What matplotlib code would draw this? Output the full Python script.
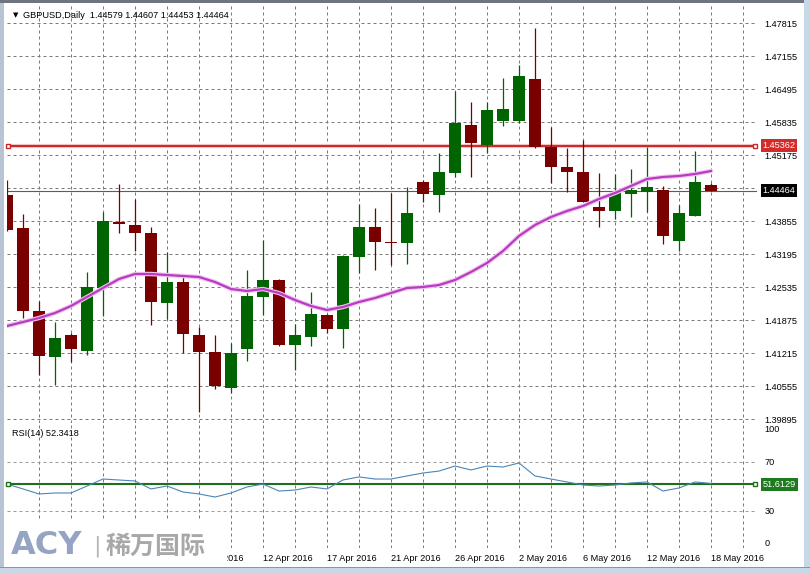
import numpy as np
import matplotlib
matplotlib.use('Agg')
import matplotlib.pyplot as plt
from matplotlib.patches import Rectangle
import matplotlib.transforms as mtransforms

# GBPUSD daily candles (one per trading day)
opens = [1.44375, 1.43715, 1.42055, 1.41135, 1.41575, 1.41255, 1.42515, 1.43835, 1.43775, 1.43615,
         1.42215, 1.42635, 1.41575, 1.41235, 1.40515, 1.41295, 1.42335, 1.42675, 1.41375, 1.41535,
         1.41975, 1.41695, 1.43135, 1.43735, 1.43435, 1.43415, 1.44635, 1.44375, 1.44815, 1.45775,
         1.45375, 1.45855, 1.45855, 1.46695, 1.45335, 1.44935, 1.44835, 1.44135, 1.44055, 1.44395,
         1.44435, 1.44475, 1.43455, 1.43955, 1.44579]
highs = [1.44675, 1.43995, 1.42255, 1.41835, 1.41615, 1.42835, 1.44035, 1.44595, 1.44295, 1.43735,
         1.43235, 1.42795, 1.41735, 1.41575, 1.41415, 1.42875, 1.43475, 1.42695, 1.41795, 1.42435,
         1.41995, 1.43175, 1.44195, 1.44115, 1.44415, 1.44535, 1.44675, 1.45215, 1.46455, 1.46235,
         1.46235, 1.46715, 1.46975, 1.47715, 1.45735, 1.45315, 1.45475, 1.44815, 1.44795, 1.44895,
         1.45335, 1.44555, 1.44175, 1.45255, 1.44607]
lows = [1.43655, 1.41915, 1.40775, 1.40575, 1.41035, 1.41175, 1.41955, 1.43615, 1.43255, 1.41775,
        1.41895, 1.41215, 1.40035, 1.40495, 1.40415, 1.41055, 1.41975, 1.41355, 1.40875, 1.41355,
        1.41615, 1.41315, 1.42815, 1.42875, 1.42975, 1.42995, 1.44235, 1.44035, 1.44735, 1.44735,
        1.45215, 1.45755, 1.45815, 1.45315, 1.44615, 1.44435, 1.44235, 1.43735, 1.43895, 1.43935,
        1.44035, 1.43395, 1.43255, 1.43955, 1.44453]
closes = [1.43675, 1.42055, 1.41155, 1.41515, 1.41295, 1.42535, 1.43855, 1.43795, 1.43615, 1.42235,
          1.42635, 1.41595, 1.41235, 1.40555, 1.41215, 1.42355, 1.42675, 1.41375, 1.41575, 1.41995,
          1.41695, 1.43155, 1.43735, 1.43435, 1.43425, 1.44015, 1.44395, 1.44835, 1.45815, 1.45415,
          1.46075, 1.46095, 1.46755, 1.45335, 1.44935, 1.44835, 1.44235, 1.44055, 1.44415, 1.44475,
          1.44535, 1.43555, 1.44015, 1.44635, 1.44464]
ma = [1.41755, 1.41835, 1.41915, 1.42015, 1.42155, 1.42335, 1.42515, 1.42695, 1.42795, 1.42795,
      1.42775, 1.42755, 1.42735, 1.42635, 1.42495, 1.42455, 1.42495, 1.42415, 1.42275, 1.42155,
      1.42075, 1.42135, 1.42235, 1.42315, 1.42415, 1.42515, 1.42535, 1.42575, 1.42675, 1.42835,
      1.43015, 1.43255, 1.43555, 1.43775, 1.43935, 1.44055, 1.44155, 1.44295, 1.44415, 1.44555,
      1.44695, 1.44735, 1.44755, 1.44795, 1.44855]
rsi = [51.8, 47.8, 43.7, 44.5, 44.5, 50.2, 55.9, 55.1, 54.3, 47.8,
       50.2, 45.3, 43.7, 41.2, 44.5, 49.4, 51.8, 46.1, 46.9, 49.4,
       47.8, 55.1, 57.6, 55.9, 55.9, 58.4, 60.8, 62.4, 66.5, 63.3,
       66.5, 65.7, 69.0, 58.4, 55.9, 53.5, 51.0, 50.2, 51.0, 52.7,
       53.5, 46.1, 48.6, 53.5, 52.3]

price_ticks = [1.47815, 1.47155, 1.46495, 1.45835, 1.45175, 1.44515, 1.43855,
               1.43195, 1.42535, 1.41875, 1.41215, 1.40555, 1.39895]
rsi_ticks = [100, 70, 30, 0]
date_pos = [12, 16, 20, 24, 28, 32, 36, 40, 44]
date_labels = ['7 Apr 2016', '12 Apr 2016', '17 Apr 2016', '21 Apr 2016', '26 Apr 2016',
               '2 May 2016', '6 May 2016', '12 May 2016', '18 May 2016']

level_price = 1.45362
bid_price = 1.44464
rsi_level = 51.6129
rsi_now = 52.3418

FONT = ['Liberation Sans', 'DejaVu Sans']
FS = 6.6
BULL = '#006400'
BEAR = '#7A0000'
GRID = '#7a7a7a'

W, H = 810, 574
def box(l, t, r, b):
    return [l / W, 1 - b / H, (r - l) / W, (b - t) / H]

fig = plt.figure(figsize=(8.1, 5.74), dpi=100)
fig.patch.set_facecolor('white')

ax = fig.add_axes(box(7, 4, 757, 423))
ax2 = fig.add_axes(box(7, 425, 757, 547.5))

n = len(opens)
x = np.arange(n)
o = np.array(opens); c = np.array(closes)
up = c >= o
up[24] = False
up[7] = False
cols = [BULL if u else BEAR for u in up]

# grid
for a in (ax, ax2):
    for g in range(2, 48, 2):
        a.axvline(g, color=GRID, lw=0.72, ls=(0, (3, 3)), zorder=0)
for p in price_ticks:
    ax.axhline(p, color=GRID, lw=0.72, ls=(0, (3, 3)), zorder=0)
for r in (70, 30):
    ax2.axhline(r, color='#9a9a9a', lw=0.72, ls=(0, (3, 3)), zorder=0)

# candles
ax.vlines(x, lows, highs, colors=cols, lw=0.9, zorder=2)
body = np.maximum(np.abs(c - o), 0.00008)
ax.bar(x, body, bottom=np.minimum(o, c), width=0.69, color=cols, zorder=3)

# moving average
ax.plot(x, ma, color='#f2c4f2', lw=3.2, zorder=3.5, solid_capstyle='round')
ax.plot(x, ma, color='#b83cc0', lw=1.6, zorder=4)

xl = (0, 750 / 16)
# horizontal level lines
ax.axhline(bid_price, color='#5a5a6e', lw=0.8, zorder=1)
ax.axhline(level_price, color='#f4c4c4', lw=3.0, zorder=1)
ax.axhline(level_price, color='#c82828', lw=1.4, zorder=1.2)
ax.plot([xl[0] + 0.08, xl[1] - 0.12], [level_price, level_price], 's', ms=3.5,
        mfc='white', mec='#c82828', mew=1, zorder=5, clip_on=False)

ax.set_xlim(*xl)
ax.set_ylim(1.39815, 1.48195)
ax.yaxis.tick_right()
ax.set_yticks(price_ticks)
# the 1.44515 label sits under the bid price box
ax.set_yticklabels(['' if p == 1.44515 else '%.5f' % p for p in price_ticks],
                   fontfamily=FONT, fontsize=FS)
ax.tick_params(axis='y', length=0, pad=5.2, colors='black')
ax.tick_params(axis='x', length=0, labelbottom=False)
for s in ax.spines.values():
    s.set_visible(False)

trans = mtransforms.blended_transform_factory(ax.transAxes, ax.transData)
ax.text(1.0075, level_price, '%.5f' % level_price, transform=trans, color='white',
        fontfamily=FONT, fontsize=FS, va='center', ha='left', zorder=10, clip_on=False,
        bbox=dict(boxstyle='square,pad=0.2', fc='#d42a2a', ec='none'))
ax.text(1.0075, bid_price, '%.5f' % bid_price, transform=trans, color='white',
        fontfamily=FONT, fontsize=FS, va='center', ha='left', zorder=10, clip_on=False,
        bbox=dict(boxstyle='square,pad=0.2', fc='black', ec='none'))

ax.text(6 / 750, 1 - 11 / 419, '\u25bc', transform=ax.transAxes, fontsize=5,
        fontfamily=['DejaVu Sans'], va='center', ha='left')
ax.text(16 / 750, 1 - 11 / 419,
        'GBPUSD,Daily  %.5f %.5f %.5f %.5f' % (opens[-1], highs[-1], lows[-1], closes[-1]),
        transform=ax.transAxes, fontsize=FS, fontfamily=FONT, va='center', ha='left')

# RSI panel
ax2.plot(x, rsi, color='#4a86b8', lw=0.8, zorder=3)
ax2.axhline(rsi_level, color='#1e6e1e', lw=1.5, zorder=2)
ax2.plot([xl[0] + 0.08, xl[1] - 0.12], [rsi_level, rsi_level], 's', ms=3.5,
         mfc='white', mec='#1e6e1e', mew=1, zorder=5, clip_on=False)
ax2.set_xlim(*xl)
ax2.set_ylim(0, 100)
ax2.yaxis.tick_right()
ax2.set_yticks(rsi_ticks)
ax2.set_yticklabels([str(r) for r in rsi_ticks], fontfamily=FONT, fontsize=FS)
ax2.tick_params(axis='y', length=0, pad=5.2)
labs = ax2.get_yticklabels()
labs[0].set_va('top')
labs[-1].set_va('bottom')
ax2.set_xticks(date_pos)
ax2.set_xticklabels(date_labels, fontfamily=FONT, fontsize=FS, ha='left')
ax2.tick_params(axis='x', length=0, pad=4.5)
for s in ax2.spines.values():
    s.set_visible(False)

trans2 = mtransforms.blended_transform_factory(ax2.transAxes, ax2.transData)
ax2.text(1.0075, rsi_level, '%.4f' % rsi_level, transform=trans2, color='white',
         fontfamily=FONT, fontsize=FS, va='center', ha='left', zorder=10, clip_on=False,
         bbox=dict(boxstyle='square,pad=0.2', fc='#1e7a1e', ec='none'))
ax2.text(5 / 750, 1 - 8 / 122.5, 'RSI(14) %.4f' % rsi_now, transform=ax2.transAxes,
         fontsize=FS, fontfamily=FONT, va='center', ha='left')

# window frame
fig.patches.append(Rectangle((0, 0), 4 / W, 1, transform=fig.transFigure,
                             fc='#b8c4d4', ec='none', zorder=0))
fig.patches.append(Rectangle((0, 1 - 3 / H), 1, 3 / H, transform=fig.transFigure,
                             fc='#6e7480', ec='none', zorder=0))
fig.patches.append(Rectangle((1 - 6 / W, 0), 6 / W, 1, transform=fig.transFigure,
                             fc='#c8d8e8', ec='none', zorder=0))
fig.patches.append(Rectangle((0, 0), 1, 6 / H, transform=fig.transFigure,
                             fc='#c8d8e8', ec='none', zorder=0))
fig.patches.append(Rectangle((0, 6 / H), 1, 1 / H, transform=fig.transFigure,
                             fc='#8a96a8', ec='none', zorder=0))

# watermark logo
logo = fig.add_axes([0, 0, 227 / W, 54 / H])
logo.set_facecolor('white')
logo.set_xticks([]); logo.set_yticks([])
for s in logo.spines.values():
    s.set_visible(False)
logo.text(11 / 227, 0.52, 'ACY', fontsize=23, fontweight='heavy', color='#94a4c2',
          fontfamily=['DejaVu Sans'], va='center', ha='left', transform=logo.transAxes)
logo.text(93 / 227, 0.52, '|', fontsize=16, color='#b8b8b8', va='center', ha='left',
          transform=logo.transAxes)
logo.text(106 / 227, 0.5, '稀万国际', fontsize=18, fontweight='bold', color='#a8a8a8',
          fontfamily=['Noto Sans CJK SC', 'DejaVu Sans'], va='center', ha='left',
          transform=logo.transAxes)

fig.savefig('out.png', dpi=100, facecolor=fig.get_facecolor())
